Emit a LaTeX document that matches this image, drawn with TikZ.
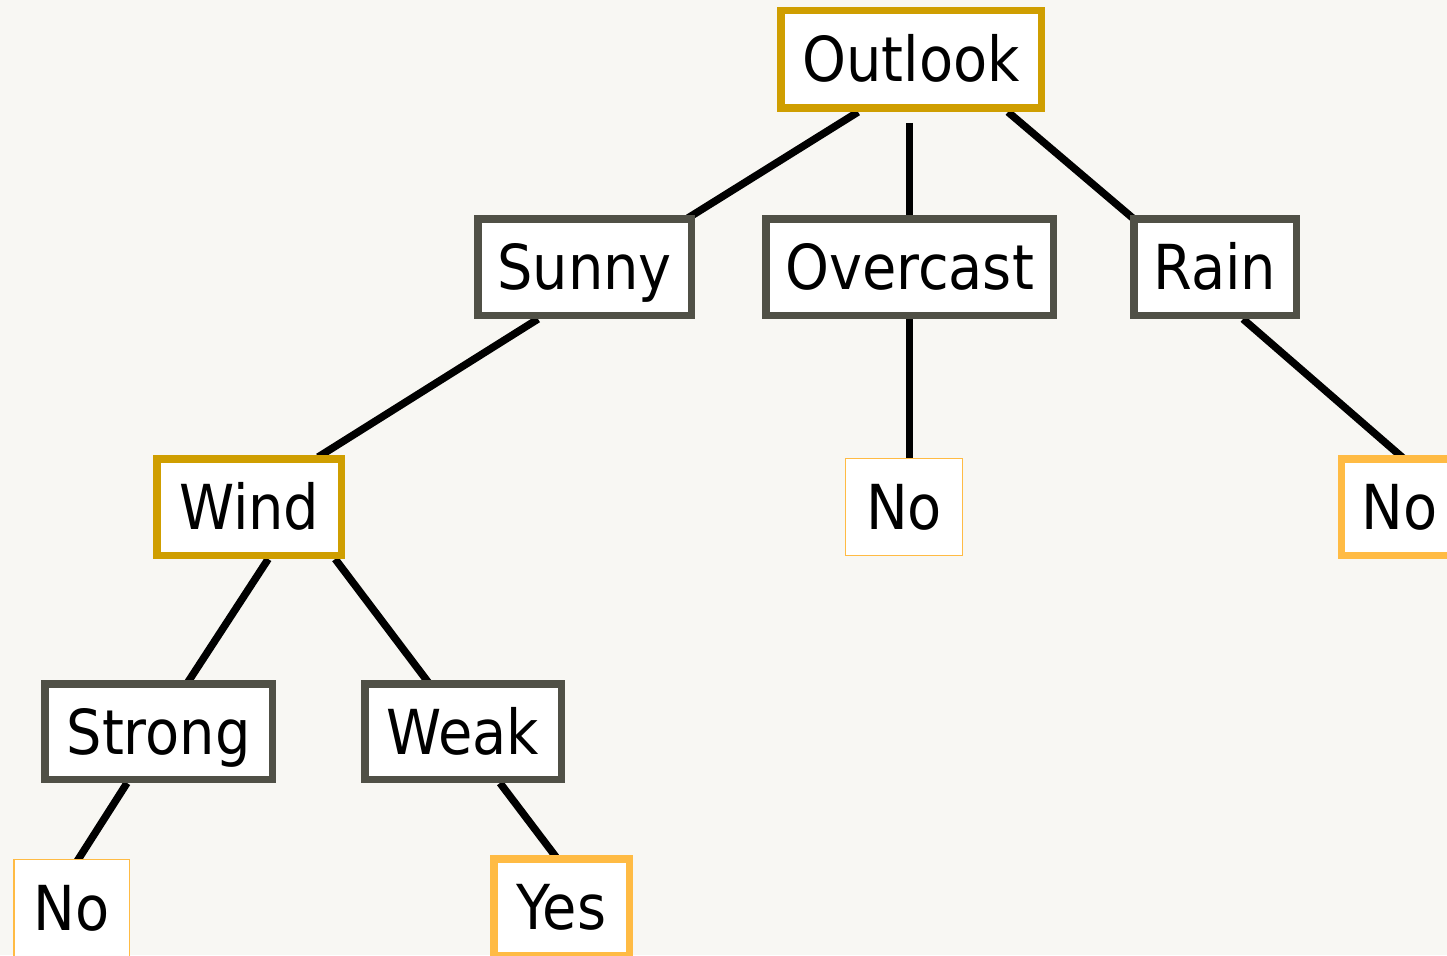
\documentclass[tikz,border=0pt]{standalone}
\usepackage{fontspec}
\setmainfont{DejaVu Sans Condensed}
\usetikzlibrary{calc}
\definecolor{pagebg}{RGB}{248,247,243}
\definecolor{attrgold}{RGB}{207,158,0}
\definecolor{valgrey}{RGB}{80,80,70}
\definecolor{leaforange}{RGB}{255,187,68}
\pgfdeclarelayer{bglayer}
\pgfdeclarelayer{edgelayer}
\pgfsetlayers{bglayer,edgelayer,main}
\tikzset{
  box/.style={rectangle, fill=white, inner sep=0pt, line width=7.5pt,
    font=\fontsize{62}{70}\selectfont, text height=45pt, text depth=0pt},
  attr/.style={box, draw=attrgold},
  val/.style={box, draw=valgrey},
  leafthick/.style={box, draw=leaforange},
  leafthin/.style={box, draw=leaforange, line width=1.4pt},
  edge/.style={line width=7.5pt, draw=black}
}
\begin{document}
\begin{tikzpicture}[x=1pt, y=-1pt]
\begin{pgfonlayer}{bglayer}
  \fill[pagebg] (0,0) rectangle (1447,955);
\end{pgfonlayer}
\useasboundingbox (0,0) rectangle (1447,955);

% outer size minus line width gives the path size
\node[attr, minimum width=260.5pt, minimum height=97.5pt] (outlook) at (911,59.5) {Outlook};
\node[val, minimum width=213.5pt, minimum height=96.5pt] (sunny) at (584.5,267) {Sunny};
\node[val, minimum width=287.5pt, minimum height=96.5pt] (overcast) at (909.5,267) {Overcast};
\node[val, minimum width=162.5pt, minimum height=96.5pt] (rain) at (1215,267) {Rain};
\node[attr, minimum width=184.5pt, minimum height=96.5pt] (wind) at (249.2,507) {Wind};
\node[leafthin, minimum width=116.5pt, minimum height=96.5pt] (nomid) at (904,507) {No};
\node[leafthick, minimum width=116.5pt, minimum height=96.5pt] (noright) at (1399.5,507) {No};
\node[val, minimum width=227.5pt, minimum height=95.5pt] (strong) at (158.5,731.5) {Strong};
\node[val, minimum width=196.5pt, minimum height=95.5pt] (weak) at (463,731.5) {Weak};
\node[leafthin, minimum width=115.5pt, minimum height=96.5pt] (noleft) at (71.7,908) {No};
\node[leafthick, minimum width=135.5pt, minimum height=96.5pt] (yes) at (561.5,907) {Yes};

\begin{pgfonlayer}{edgelayer}
  \draw[edge] ($(outlook.south)+(-53,0)$) -- ($(sunny.north)+(103.5,3)$);
  \draw[edge] ($(outlook.south)+(-1.5,11)$) -- (overcast.north);
  \draw[edge] ($(outlook.south)+(97,0)$) -- ($(rain.north)+(-80,5)$);
  \draw[edge] ($(sunny.south)+(-46.5,0)$) -- ($(wind.north)+(69,2)$);
  \draw[edge] (overcast.south) -- ($(nomid.north)+(5.5,0)$);
  \draw[edge] ($(rain.south)+(28,0)$) -- ($(noright.north)+(3.5,3)$);
  \draw[edge] ($(wind.south)+(19,0)$) -- ($(strong.north)+(29.5,2)$);
  \draw[edge] ($(wind.south)+(86,0)$) -- ($(weak.north)+(-35,2)$);
  \draw[edge] ($(strong.south)+(-31.5,0)$) -- ($(noleft.north)+(5.5,2)$);
  \draw[edge] ($(weak.south)+(37,0)$) -- ($(yes.north)+(-5.5,2)$);
\end{pgfonlayer}
\end{tikzpicture}
\end{document}
